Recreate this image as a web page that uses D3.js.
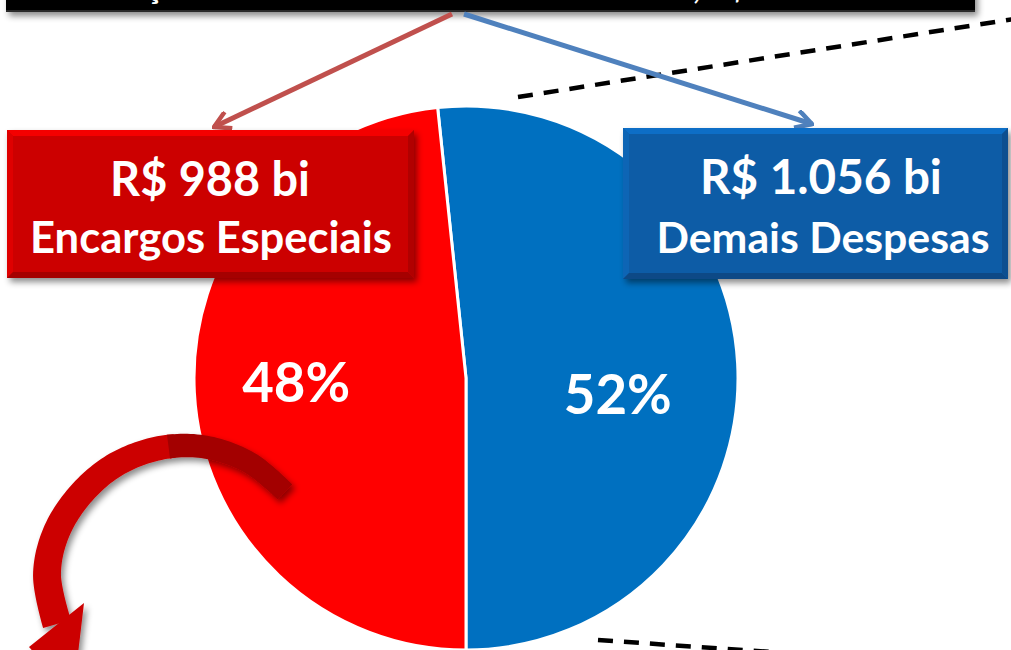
<!DOCTYPE html>
<html>
<head>
<meta charset="utf-8">
<script src="https://cdn.jsdelivr.net/npm/d3@7"></script>
<style>
  html, body { margin: 0; padding: 0; background: #fff; overflow: hidden; }
  svg { display: block; font-family: Lato, "Open Sans", sans-serif; }
</style>
</head>
<body>
<div id="chart"></div>
<script>
// data
const categories = ["Demais Despesas", "Encargos Especiais"];
const values = [1056, 988];               // R$ bilhões
const valueLabels = ["R$ 1.056 bi", "R$ 988 bi"];
const sliceColors = ["#0070c0", "#ff0000"];
const titleText = "Orçamento da União executado em 2014, R$ 2.044 bi";

const width = 1011, height = 650;
const cx = 466, cy = 378, radius = 272;

const svg = d3.select("#chart").append("svg")
  .attr("width", width).attr("height", height)
  .attr("viewBox", `0 0 ${width} ${height}`);

const defs = svg.append("defs");
const shadow = defs.append("filter").attr("id", "shadow")
  .attr("x", "-20%").attr("y", "-20%").attr("width", "140%").attr("height", "160%");
shadow.append("feDropShadow").attr("dx", 3).attr("dy", 4)
  .attr("stdDeviation", 3).attr("flood-color", "#000").attr("flood-opacity", 0.45);

// marker for the thin arrows
function marker(id, color) {
  defs.append("marker").attr("id", id)
    .attr("viewBox", "0 0 20 20").attr("refX", 18).attr("refY", 10)
    .attr("markerWidth", 20).attr("markerHeight", 20)
    .attr("markerUnits", "userSpaceOnUse").attr("orient", "auto")
    .append("path").attr("d", "M2,1 L18,10 L2,19")
    .attr("fill", "none").attr("stroke", color).attr("stroke-width", 4.5)
    .attr("stroke-linejoin", "miter");
}
marker("headRed", "#c0504d");
marker("headBlue", "#4f81bd");

// pie: blue slice ends at the bottom (angle PI)
const total = d3.sum(values);
const firstAngle = 2 * Math.PI * values[0] / total;
const pie = d3.pie().sort(null).value(d => d)
  .startAngle(Math.PI - firstAngle)
  .endAngle(3 * Math.PI - firstAngle);
const arc = d3.arc().innerRadius(0).outerRadius(radius);
const arcs = pie(values);

const gPie = svg.append("g").attr("transform", `translate(${cx},${cy})`);
gPie.selectAll("path").data(arcs).enter().append("path")
  .attr("d", arc)
  .attr("fill", (d, i) => sliceColors[i])
  .attr("stroke", "#fff").attr("stroke-width", 3);

// dashed connector lines
const dash = svg.append("g").attr("stroke", "#000").attr("stroke-width", 4.5)
  .attr("stroke-dasharray", "15,11").attr("fill", "none");
dash.append("line").attr("x1", 518).attr("y1", 97).attr("x2", 1020).attr("y2", 18);
dash.append("line").attr("x1", 598).attr("y1", 640).attr("x2", 800).attr("y2", 654);

// top black title bar (mostly cut off, as in the source)
const bar = svg.append("g").attr("filter", "url(#shadow)");
bar.append("rect").attr("x", 6).attr("y", -40).attr("width", 969).attr("height", 52).attr("fill", "#000");
bar.append("rect").attr("x", 6).attr("y", 10).attr("width", 969).attr("height", 2).attr("fill", "#2a2a2a");
svg.append("text").attr("x", 490).attr("y", -1).attr("text-anchor", "middle")
  .attr("fill", "#fff").attr("font-weight", 700).attr("font-size", 32).text(titleText);

// arrows from title to boxes
svg.append("line").attr("x1", 452).attr("y1", 14).attr("x2", 214).attr("y2", 127)
  .attr("stroke", "#c0504d").attr("stroke-width", 5).attr("marker-end", "url(#headRed)");
svg.append("line").attr("x1", 464).attr("y1", 14).attr("x2", 812).attr("y2", 124)
  .attr("stroke", "#4f81bd").attr("stroke-width", 5).attr("marker-end", "url(#headBlue)");

// bevelled label boxes
function bevelBox(x, y, w, h, c) {
  const b = 6;
  const g = svg.append("g").attr("filter", "url(#shadow)");
  const base = d3.color(c);
  g.append("rect").attr("x", x).attr("y", y).attr("width", w).attr("height", h).attr("fill", c);
  g.append("path").attr("d", `M${x},${y}L${x + w},${y}L${x + w - b},${y + b}L${x + b},${y + b}Z`)
    .attr("fill", base.brighter(0.5));
  g.append("path").attr("d", `M${x},${y}L${x + b},${y + b}L${x + b},${y + h - b}L${x},${y + h}Z`)
    .attr("fill", base.brighter(0.25));
  g.append("path").attr("d", `M${x},${y + h}L${x + b},${y + h - b}L${x + w - b},${y + h - b}L${x + w},${y + h}Z`)
    .attr("fill", base.darker(0.6));
  g.append("path").attr("d", `M${x + w},${y}L${x + w},${y + h}L${x + w - b},${y + h - b}L${x + w - b},${y + b}Z`)
    .attr("fill", base.darker(0.4));
  return g;
}

function fitText(x, y, str, targetW, size, fill) {
  const t = svg.append("text").attr("x", x).attr("y", y).attr("text-anchor", "middle")
    .attr("fill", fill || "#fff").attr("font-weight", 700).attr("font-size", size).text(str);
  const w = t.node().getComputedTextLength();
  t.attr("font-size", size * targetW / w);
  return t;
}

bevelBox(7, 130, 407, 148, "#cc0000");
bevelBox(623, 128, 385, 151, "#0a5ca6");

fitText(210, 196, valueLabels[1], 200, 42);
fitText(211, 253, categories[1], 362, 36);
fitText(821, 194, valueLabels[0], 242, 42);
fitText(823, 253, categories[0], 333, 36);

// curved red arrow (decoration)
const centre = [[285, 492], [250, 463], [205, 447], [160, 448], [115, 465], [80, 495], [56, 533], [47, 575], [57, 624]];
const tmp = svg.append("path").attr("d", d3.line().curve(d3.curveCatmullRom)(centre))
  .attr("fill", "none").attr("stroke", "none");
const len = tmp.node().getTotalLength();
const N = 120;
const pts = d3.range(N + 1).map(i => {
  const p = tmp.node().getPointAtLength(len * i / N);
  return [p.x, p.y];
});
tmp.remove();
function ribbon(i0, i1) {
  const left = [], right = [];
  for (let i = i0; i <= i1; i++) {
    const a = pts[Math.max(0, i - 1)], c = pts[Math.min(N, i + 1)];
    let dx = c[0] - a[0], dy = c[1] - a[1];
    const l = Math.hypot(dx, dy); dx /= l; dy /= l;
    const w = (21 + 8 * i / N) / 2;
    left.push([pts[i][0] - dy * w, pts[i][1] + dx * w]);
    right.push([pts[i][0] + dy * w, pts[i][1] - dx * w]);
  }
  return "M" + left.concat(right.reverse()).map(p => p.join(",")).join("L") + "Z";
}
const curved = svg.append("g").attr("filter", "url(#shadow)");
curved.append("path").attr("d", ribbon(40, N)).attr("fill", "#cc0000");
curved.append("path").attr("d", "M84,603L29,647L73,696Z").attr("fill", "#cc0000");
curved.append("path").attr("d", ribbon(0, 42)).attr("fill", "#a30404");

// percentage labels
const pct = values.map(v => Math.round(100 * v / total) + "%");
const labelR = [152, 170], labelDy = [44, 15];
arcs.forEach((d, i) => {
  const a = (d.startAngle + d.endAngle) / 2;
  const x = cx + labelR[i] * Math.sin(a);
  const y = cy - labelR[i] * Math.cos(a) + labelDy[i];
  fitText(x, y, pct[i], 108, 56);
});
</script>
</body>
</html>
